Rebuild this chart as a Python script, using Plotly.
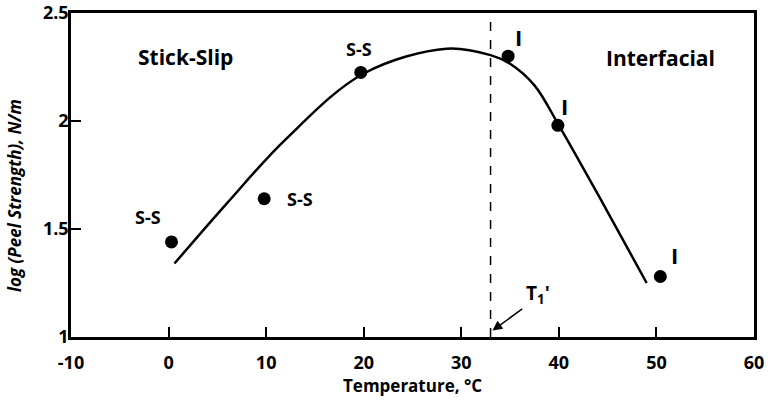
import plotly.graph_objects as go

# Measured peel strength points
temp_c = [0.3, 9.8, 19.7, 34.8, 39.9, 50.4]
log_peel = [1.44, 1.64, 2.225, 2.30, 1.98, 1.28]
failure_mode = ["S-S", "S-S", "S-S", "I", "I", "I"]

# Smooth trend curve
curve_t = [0.6, 6, 12, 20, 28.5, 33, 35, 37.5, 40, 44.5, 49]
curve_y = [1.34, 1.62, 1.915, 2.22, 2.335, 2.305, 2.265, 2.165, 1.98, 1.62, 1.25]

# Transition temperature T1'
t_trans = 33

x_ticks = [-10, 0, 10, 20, 30, 40, 50, 60]
y_ticks = [1, 1.5, 2, 2.5]

FONT = "Open Sans"
PLOT_W, PLOT_H = 683, 324

fig = go.Figure()
fig.add_trace(go.Scatter(x=curve_t, y=curve_y, mode="lines",
                         line=dict(color="black", width=2.5, shape="spline", smoothing=1.0),
                         hoverinfo="skip"))
fig.add_trace(go.Scatter(x=temp_c, y=log_peel, mode="markers",
                         marker=dict(color="black", size=13)))
fig.add_trace(go.Scatter(x=[t_trans, t_trans], y=[1, 2.5], mode="lines",
                         line=dict(color="black", width=1.5, dash="dash")))

# Failure-mode labels next to each point
label_pos = [(-2.1, 1.555), (13.5, 1.64), (19.5, 2.335), (35.9, 2.39), (40.6, 2.07), (51.9, 1.38)]
for (lx, ly), txt in zip(label_pos, failure_mode):
    size = 18 if txt == "S-S" else 22
    fig.add_annotation(x=lx, y=ly, text=txt, showarrow=False,
                       font=dict(family=FONT, size=size, color="black", weight="bold"))

fig.add_annotation(x=1.7, y=2.296, text="Stick-Slip", showarrow=False,
                   font=dict(family=FONT, size=21, color="black", weight="bold"))
fig.add_annotation(x=50.4, y=2.29, text="Interfacial", showarrow=False,
                   font=dict(family=FONT, size=21, color="black", weight="bold"))

fig.add_annotation(x=t_trans + 0.2, y=1.03, ax=36.4, ay=1.135, axref="x", ayref="y",
                   text="", showarrow=True, arrowhead=2, arrowsize=1.3, arrowwidth=1.5,
                   arrowcolor="black")
fig.add_annotation(x=37.9, y=1.2, text="T<sub>1</sub>'", showarrow=False,
                   font=dict(family=FONT, size=19, color="black", weight="bold"))

# Axis titles
fig.add_annotation(x=0.5, y=-48 / PLOT_H, xref="paper", yref="paper",
                   text="Temperature, °C", showarrow=False, yanchor="middle",
                   font=dict(family=FONT, size=17, color="black", weight="bold"))
fig.add_annotation(x=-57 / PLOT_W, y=(337 - 196) / PLOT_H, xref="paper", yref="paper",
                   text="<i>log (Peel Strength), N/m</i>", showarrow=False, textangle=-90,
                   xanchor="center", yanchor="middle",
                   font=dict(family=FONT, size=17, color="black", weight="bold"))

axis_common = dict(showgrid=False, zeroline=False, showline=True, linecolor="black",
                   linewidth=2.5, mirror=True, ticks="inside", tickcolor="black",
                   tickwidth=1.5, ticklen=10, automargin=False,
                   tickfont=dict(family=FONT, size=18, color="black", weight="bold"))

fig.update_xaxes(range=[-10, 60], tickvals=x_ticks, ticktext=[str(v) for v in x_ticks],
                 ticklabelstandoff=8, **axis_common)
fig.update_yaxes(range=[1, 2.5], tickvals=y_ticks, ticktext=["1", "1.5", "2", "2.5"],
                 ticklabelstandoff=-4, **axis_common)

fig.update_layout(width=772, height=402, showlegend=False,
                  plot_bgcolor="white", paper_bgcolor="white",
                  margin=dict(l=71, r=18, t=13, b=65))

fig.write_html("out.html")
